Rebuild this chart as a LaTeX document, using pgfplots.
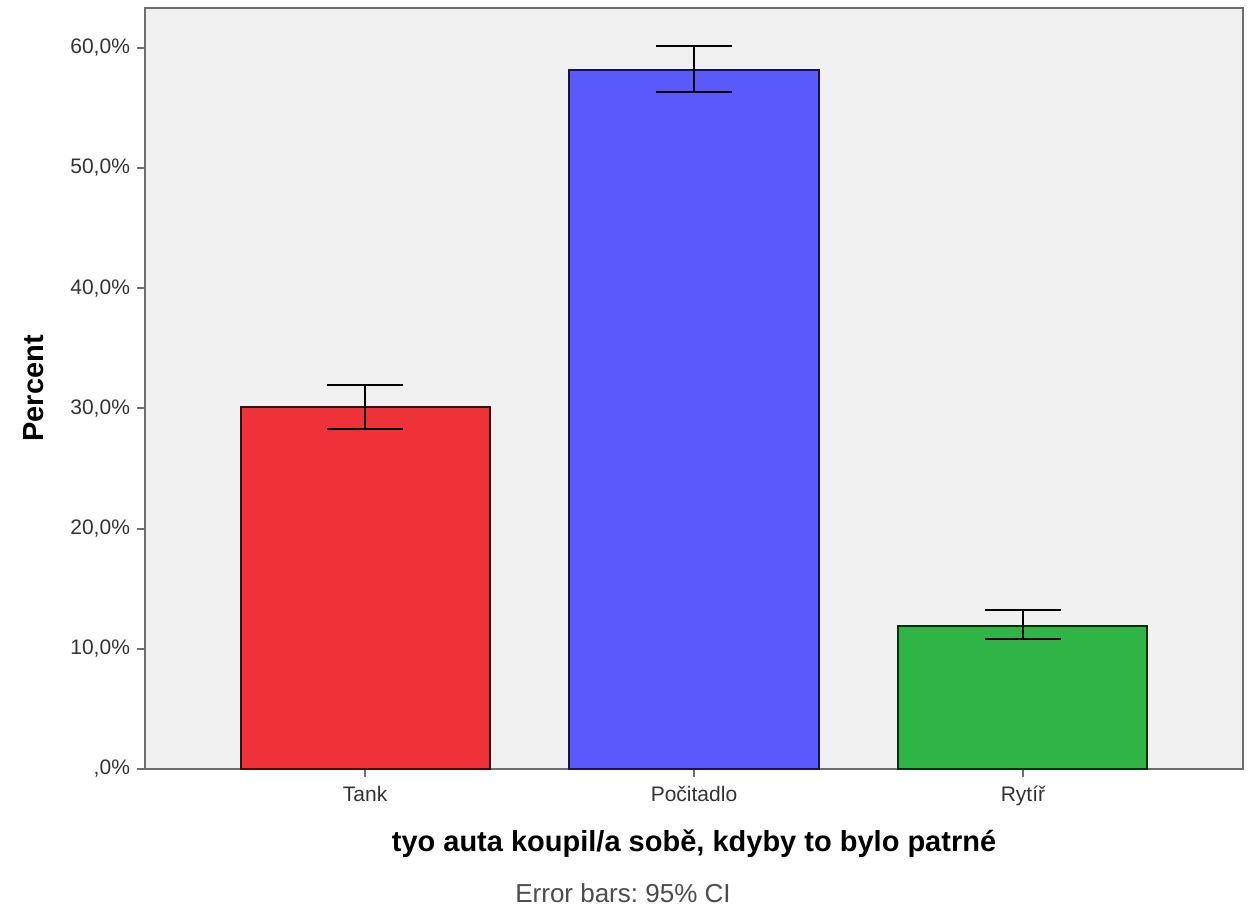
\documentclass[border=0pt]{standalone}
\usepackage{pgfplots}
\pgfplotsset{compat=1.18}
\usepackage{fontspec}
\setmainfont{Liberation Sans}
\frenchspacing
\definecolor{bgc}{RGB}{240,240,240}
\definecolor{cred}{RGB}{238,50,56}
\definecolor{cblue}{RGB}{90,90,252}
\definecolor{cgreen}{RGB}{48,180,70}
\definecolor{axc}{RGB}{110,110,110}
\begin{document}
\begin{tikzpicture}
\begin{axis}[
  scale only axis,
  width=549pt, height=380.5pt,
  xmin=-0.669, xmax=2.669,
  ymin=0, ymax=63.3,
  axis background/.style={fill=bgc},
  axis line style={axc, line width=1.2pt},
  xtick={0,1,2},
  xticklabels={Tank,Počitadlo,Rytíř},
  ytick={0,10,20,30,40,50,60},
  yticklabels={{,0\%},{10,0\%},{20,0\%},{30,0\%},{40,0\%},{50,0\%},{60,0\%}},
  tick style={axc, line width=1pt},
  tick align=outside,
  major tick length=4pt,
  xtick pos=bottom, ytick pos=left,
  ticklabel style={font=\fontsize{10.5}{12}\selectfont, text=black!80},
  xticklabel style={yshift=-1pt},
  ylabel={\textbf{Percent}},
  ylabel style={font=\fontsize{14.5}{16}\selectfont, yshift=6.5pt},
  xlabel={\textbf{tyo auta koupil/a sobě, kdyby to bylo patrné}},
  xlabel style={font=\fontsize{14.5}{16}\selectfont, yshift=-5pt},
  ybar, bar width=124.5pt, bar shift=0pt,
  clip=false,
]
\addplot[fill=cred, draw=black!75!cred, line width=1pt,
  error bars/.cd, y dir=both, y explicit,
  error bar style={black, line width=1pt},
  error mark options={black, line width=1pt, mark size=19pt, rotate=90}]
  coordinates {(0,30.1) += (0,1.85) -= (0,1.8)};
\addplot[fill=cblue, draw=black!75!cblue, line width=1pt,
  error bars/.cd, y dir=both, y explicit,
  error bar style={black, line width=1pt},
  error mark options={black, line width=1pt, mark size=19pt, rotate=90}]
  coordinates {(1,58.15) += (0,1.95) -= (0,1.8)};
\addplot[fill=cgreen, draw=black!75!cgreen, line width=1pt,
  error bars/.cd, y dir=both, y explicit,
  error bar style={black, line width=1pt},
  error mark options={black, line width=1pt, mark size=19pt, rotate=90}]
  coordinates {(2,11.9) += (0,1.3) -= (0,1.1)};
\node[font=\fontsize{13}{15}\selectfont, text=black!70] at (rel axis cs:0.5,0) [yshift=-62pt, xshift=-35.5pt] {Error bars: 95\% CI};
\end{axis}
\pgfresetboundingbox
\path[use as bounding box] (-72.5pt,-71.5pt) rectangle (552.5pt,384.5pt);
\end{tikzpicture}
\end{document}
